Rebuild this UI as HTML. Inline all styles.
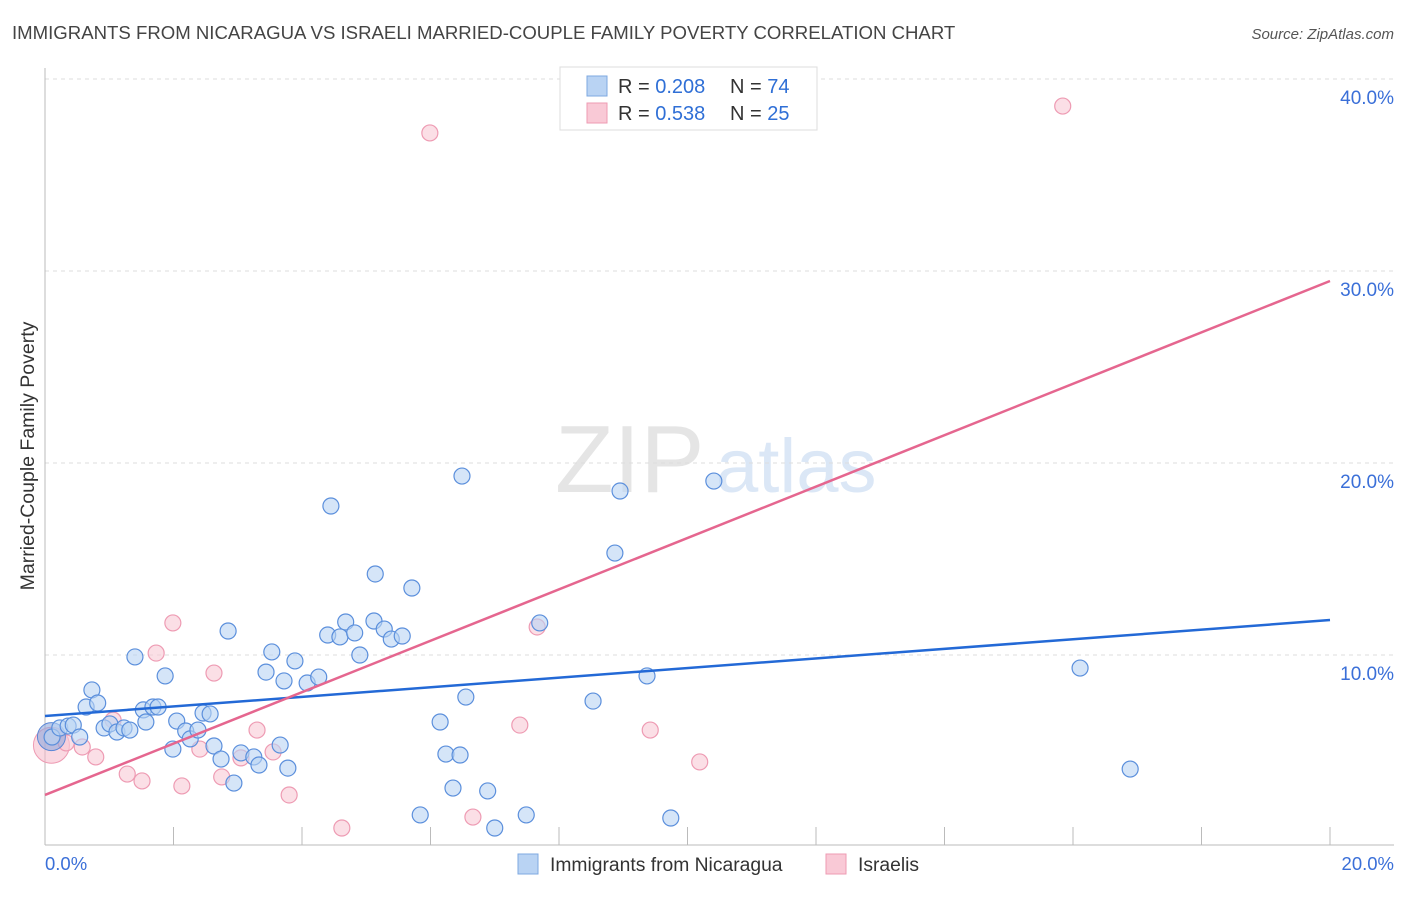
<!DOCTYPE html>
<html><head><meta charset="utf-8"><style>
body{margin:0;background:#fff;font-family:"Liberation Sans",sans-serif;}
svg text{font-family:"Liberation Sans",sans-serif;}
</style></head><body>
<svg id="chart" width="1406" height="892" viewBox="0 0 1406 892" xmlns="http://www.w3.org/2000/svg">
<text x="12" y="39" font-size="18.6" fill="#444">IMMIGRANTS FROM NICARAGUA VS ISRAELI MARRIED-COUPLE FAMILY POVERTY CORRELATION CHART</text>
<text x="1394" y="39" font-size="15" fill="#555" text-anchor="end" font-style="italic">Source: ZipAtlas.com</text>
<g opacity="0.5">
<text x="555" y="492" font-size="96" fill="#ccc" font-family="Liberation Serif">ZIP</text>
<text x="716" y="492" font-size="76" fill="#b8d0ee">atlas</text>
</g>
<g id="grid"></g>
<line x1="45" y1="68" x2="45" y2="845" stroke="#bbb"/>
<line x1="45" y1="845" x2="1394" y2="845" stroke="#bbb"/>
<g id="ticks"></g>
<text transform="translate(34,456) rotate(-90)" font-size="19.5" fill="#333" text-anchor="middle">Married-Couple Family Poverty</text>
<text x="45" y="870" font-size="18.5" fill="#3a6fd8">0.0%</text>
<text x="1394" y="870" font-size="18.5" fill="#3a6fd8" text-anchor="end">20.0%</text>
<g id="pts"></g>
<g id="lines"></g>
<g>
<rect x="560" y="67" width="257" height="63" fill="#fff" stroke="#ddd"/>
<rect x="587" y="76" width="20" height="20" fill="#b9d3f3" stroke="#7ea8e0"/>
<rect x="587" y="103" width="20" height="20" fill="#f9c9d6" stroke="#ee9bb3"/>
<text x="618" y="93" font-size="20" fill="#333">R = <tspan fill="#2f6fd6">0.208</tspan><tspan x="730">N = </tspan><tspan fill="#2f6fd6">74</tspan></text>
<text x="618" y="120" font-size="20" fill="#333">R = <tspan fill="#2f6fd6">0.538</tspan><tspan x="730">N = </tspan><tspan fill="#2f6fd6">25</tspan></text>
</g>
<g>
<rect x="518" y="854" width="20" height="20" fill="#b9d3f3" stroke="#7ea8e0"/>
<text x="550" y="871" font-size="19.3" fill="#333">Immigrants from Nicaragua</text>
<rect x="826" y="854" width="20" height="20" fill="#f9c9d6" stroke="#ee9bb3"/>
<text x="858" y="871" font-size="19.3" fill="#333">Israelis</text>
</g>
</svg>
<script>
const yTicks=[10,20,30,40];
const yTickLabels=["10.0%","20.0%","30.0%","40.0%"];
const xTicks=[0,2,4,6,8,10,12,14,16,18,20];
const blueX=[0.11,0.23,0.36,0.44,0.54,0.64,0.73,0.82,0.92,1.01,1.12,1.23,1.32,1.40,1.53,1.57,1.68,1.76,1.87,1.99,2.05,2.19,2.26,2.38,2.46,2.57,2.63,2.74,2.85,2.94,3.05,3.25,3.33,3.44,3.53,3.66,3.72,3.78,3.89,4.08,4.26,4.40,4.45,4.59,4.68,4.82,4.90,5.14,5.12,5.28,5.39,5.56,5.71,5.84,6.15,6.24,6.35,6.46,6.49,6.55,6.89,7.00,7.49,7.70,8.53,8.87,8.95,9.37,9.74,10.41,16.11,16.89];
const blueY=[5.73,6.20,6.30,6.35,5.73,7.29,8.18,7.50,6.20,6.41,5.99,6.20,6.09,9.90,7.14,6.51,7.29,7.29,8.91,5.10,6.56,6.04,5.63,6.09,6.98,6.93,5.26,4.58,11.25,3.33,4.90,4.69,4.27,9.11,10.16,5.31,8.65,4.11,9.69,8.54,8.85,11.04,17.76,10.94,11.72,11.15,10.00,14.22,11.77,11.35,10.83,10.99,13.49,1.67,6.51,4.84,3.07,4.79,19.32,7.81,2.92,0.99,1.67,11.67,7.60,15.31,18.54,8.91,1.51,19.06,9.32,4.06];
const pinkX=[0.33,0.58,0.79,1.06,1.28,1.51,1.73,1.99,2.13,2.41,2.63,2.75,3.05,3.30,3.55,3.80,4.62,5.99,6.66,7.39,7.66,9.42,10.19,15.84];
const pinkY=[5.42,5.21,4.69,6.61,3.80,3.44,10.10,11.67,3.18,5.10,9.06,3.65,4.64,6.09,4.95,2.71,0.99,37.19,1.56,6.35,11.46,6.09,4.43,38.59];
const blueTrend=[6.82,11.82];
const pinkTrend=[2.71,29.48];
const NS="http://www.w3.org/2000/svg";
const sx=v=>45+v*64.25, sy=v=>847-v*19.2;
function mk(t,a,p){const e=document.createElementNS(NS,t);for(const k in a)e.setAttribute(k,a[k]);p.appendChild(e);return e;}
const grid=document.getElementById('grid'),ticks=document.getElementById('ticks'),pts=document.getElementById('pts'),lines=document.getElementById('lines');
yTicks.forEach((v,i)=>{
 const l=mk('line',{x1:45,x2:1394,y1:sy(v),y2:sy(v),stroke:'#ddd','stroke-dasharray':'4,4'},grid);
 
 
 const t=mk('text',{x:1394,y:sy(v)+25,'font-size':19,fill:'#3a6fd8','text-anchor':'end'},grid);
 t.textContent=yTickLabels[i];
 
 
});
xTicks.forEach(v=>{
 const l=mk('line',{x1:sx(v),x2:sx(v),y1:827,y2:845,stroke:'#bbb'},ticks);
 
 
});
const big1=mk('circle',{cx:sx(0.1),cy:sy(5.3),r:18,fill:'#f5b8c9',stroke:'#ee9bb3','fill-opacity':0.55},pts);


pinkX.forEach((x,i)=>{
 const c=mk('circle',{cx:sx(x),cy:sy(pinkY[i]),r:8,fill:'#f9c9d6','fill-opacity':0.6,stroke:'#ee9bb3','stroke-width':1.2},pts);
 
 
});
const big2=mk('circle',{cx:sx(0.1),cy:sy(5.75),r:14,fill:'#8fa8dc',stroke:'#5b87d6','fill-opacity':0.6},pts);


blueX.forEach((x,i)=>{
 const c=mk('circle',{cx:sx(x),cy:sy(blueY[i]),r:8,fill:'#b9d3f3','fill-opacity':0.6,stroke:'#5b8fdc','stroke-width':1.2},pts);
 
 
});
const bl=mk('line',{x1:sx(0),y1:sy(blueTrend[0]),x2:sx(20),y2:sy(blueTrend[1]),stroke:'#2369d6','stroke-width':2.5},lines);


const pl=mk('line',{x1:sx(0),y1:sy(pinkTrend[0]),x2:sx(20),y2:sy(pinkTrend[1]),stroke:'#e5668f','stroke-width':2.5},lines);


</script>
</body></html>
